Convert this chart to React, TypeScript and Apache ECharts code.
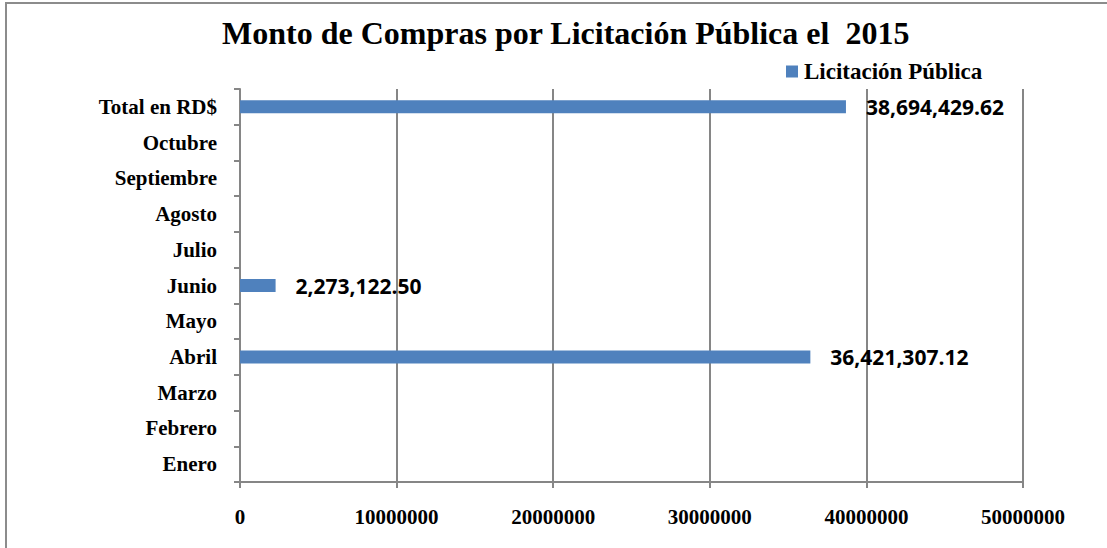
import React, { useEffect, useRef } from "react";
import * as echarts from "echarts";

const titleText = "Monto de Compras por Licitación Pública el  2015";
const seriesName = "Licitación Pública";
const categories = [
  "Enero",
  "Febrero",
  "Marzo",
  "Abril",
  "Mayo",
  "Junio",
  "Julio",
  "Agosto",
  "Septiembre",
  "Octubre",
  "Total en RD$",
];
const values: (number | null)[] = [
  null,
  null,
  null,
  36421307.12,
  null,
  2273122.5,
  null,
  null,
  null,
  null,
  38694429.62,
];
const xMin = 0;
const xMax = 50000000;
const xInterval = 10000000;

const fmt = (v: number) =>
  v.toLocaleString("en-US", { minimumFractionDigits: 2, maximumFractionDigits: 2 });

export default function App() {
  const ref = useRef<HTMLDivElement>(null);
  useEffect(() => {
    if (!ref.current) return;
    const chart = echarts.init(ref.current, null, { renderer: "svg" });
    const serif = "'Liberation Serif', 'Times New Roman', serif";
    const gray = "#868686";
    chart.setOption({
      animation: false,
      backgroundColor: "#ffffff",
      title: {
        text: titleText,
        left: 222,
        top: 17,
        padding: 0,
        textStyle: { fontFamily: serif, fontWeight: "bold", fontSize: 32, color: "#000" },
      },
      legend: {
        left: 786,
        top: 60,
        padding: 0,
        itemWidth: 12,
        itemHeight: 12,
        icon: "rect",
        data: [seriesName],
        textStyle: { fontFamily: serif, fontWeight: "bold", fontSize: 23, color: "#000", padding: [0, 0, 0, 1] },
      },
      graphic: [
        {
          type: "rect",
          shape: { x: 6, y: 3, width: 1300, height: 700 },
          style: { fill: "none", stroke: "#8c8c8c", lineWidth: 2 },
          silent: true,
          z: 100,
        },
      ],
      grid: { left: 240, top: 89, right: 84, bottom: 66, containLabel: false },
      xAxis: {
        type: "value",
        min: xMin,
        max: xMax,
        interval: xInterval,
        axisLine: { show: true, lineStyle: { color: gray, width: 2 } },
        axisTick: { show: true, length: 6, lineStyle: { color: gray, width: 2 } },
        splitLine: { show: true, lineStyle: { color: gray, width: 2 } },
        axisLabel: {
          margin: 24,
          fontFamily: serif,
          fontWeight: "bold",
          fontSize: 21,
          color: "#000",
          formatter: (v: number) => String(v),
        },
      },
      yAxis: {
        type: "category",
        data: categories,
        axisLine: { show: true, lineStyle: { color: gray, width: 2 } },
        axisTick: { show: true, length: 6, lineStyle: { color: gray, width: 2 } },
        splitLine: { show: false },
        axisLabel: {
          margin: 23,
          fontFamily: serif,
          fontWeight: "bold",
          fontSize: 21,
          color: "#000",
        },
      },
      series: [
        {
          name: seriesName,
          type: "bar",
          data: values,
          barWidth: 13,
          itemStyle: { color: "#4f81bd" },
          label: {
            show: true,
            position: "right",
            distance: 20,
            fontFamily: "'Open Sans', 'Noto Sans', sans-serif",
            fontWeight: "bold",
            fontSize: 21,
            color: "#000",
            formatter: (p: any) => (p.value == null ? "" : fmt(p.value)),
          },
        },
      ],
    });
    return () => chart.dispose();
  }, []);
  return (
    <div
      ref={ref}
      style={{ position: "absolute", left: 0, top: 0, width: 1107, height: 548 }}
    />
  );
}
